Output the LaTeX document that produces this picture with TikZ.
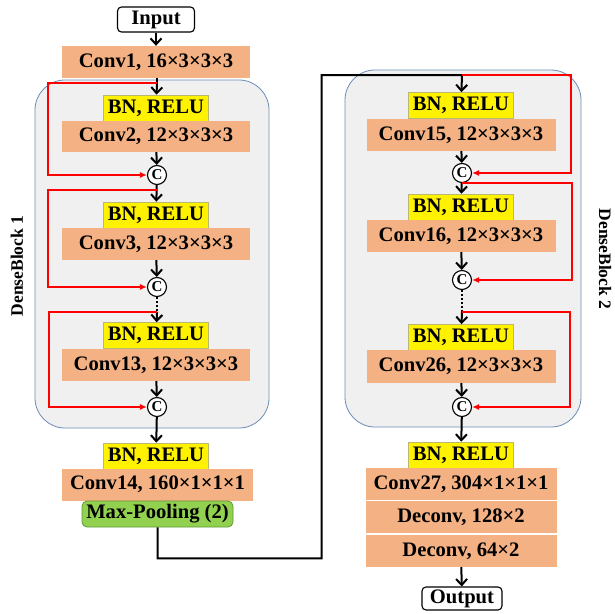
\documentclass[tikz,border=0pt]{standalone}
\usepackage{fontspec}
\setmainfont{Liberation Serif}
\usepackage{tikz}
\usepackage{xcolor}
\usetikzlibrary{
    arrows.meta,
    calc,
    positioning
}
\definecolor{convfill}{HTML}{F4B183}
\definecolor{bnedge}{HTML}{B8B870}
\definecolor{poolfill}{HTML}{92D050}
\definecolor{pooledge}{HTML}{5E9A34}
\definecolor{blockfill}{HTML}{F0F0F0}
\definecolor{blockedge}{HTML}{6B8DB5}

\tikzset{
    every node/.style={font=\bfseries\fontsize{20.6}{24}\selectfont, inner sep=0pt},
    conv/.style={fill=convfill, minimum width=188pt, minimum height=32pt},
    bn/.style={fill=yellow, draw=bnedge, line width=0.6pt, minimum width=105pt, minimum height=26pt},
    cat/.style={circle, draw, line width=1.1pt, fill=white, minimum size=19pt, font=\bfseries\fontsize{15}{15}\selectfont},
    io/.style={draw, line width=1.1pt, rounded corners=4pt, fill=white, minimum width=77pt, minimum height=25pt},
    pool/.style={fill=poolfill, draw=pooledge, line width=0.8pt, rounded corners=5pt, minimum width=151pt, minimum height=26pt},
    blockbox/.style={fill=blockfill, draw=blockedge, line width=0.8pt, rounded corners=30pt},
    flow/.style={line width=2pt, -{Straight Barb[length=6pt, width=11pt, line width=2pt]}},
    skip/.style={red, line width=2pt, -{Latex[length=7pt, width=6pt]}},
    label/.style={font=\bfseries\fontsize{17.5}{20}\selectfont}
}

\begin{document}
\begin{tikzpicture}[x=1pt, y=-1pt]
    \useasboundingbox (0,0) rectangle (614,614);

    % dense block backgrounds
    \draw[blockbox] (35,80) rectangle (269,428);
    \draw[blockbox] (345,70) rectangle (581,427);
    \node[label, rotate=90] (lab1) at (17,266) {DenseBlock 1};
    \node[label, rotate=-90] (lab2) at (605,259) {DenseBlock 2};

    % left column
    \node[io] (in) at (156,19.5) {Input};
    \node[conv] (conv1) at (156,62) {Conv1, 16×3×3×3};
    \node[bn] (bn2) at (156,108) {BN, RELU};
    \node[conv, minimum height=31pt] (conv2) at (156,136.5) {Conv2, 12×3×3×3};
    \node[cat] (c1) at (157,175) {C};
    \node[bn] (bn3) at (156,215) {BN, RELU};
    \node[conv] (conv3) at (156,244) {Conv3, 12×3×3×3};
    \node[cat] (c2) at (157,287) {C};
    \node[bn] (bn13) at (156,335.5) {BN, RELU};
    \node[conv] (conv13) at (156,365) {Conv13, 12×3×3×3};
    \node[cat] (c3) at (157,407) {C};
    \node[bn] (bn14) at (156,456) {BN, RELU};
    \node[conv, minimum width=191pt] (conv14) at (157.5,484.5) {Conv14, 160×1×1×1};
    \node[pool] (pool) at (157.5,514) {Max-Pooling (2)};

    \coordinate (j1) at (157,83);
    \coordinate (j2) at (157,190);
    \coordinate (j3) at (157,312);

    \draw
    (in) edge[flow] (conv1)
    (j1) edge[flow] (bn2)
    (conv2) edge[flow] (c1)
    (c1) edge[flow] (bn3)
    (conv3) edge[flow] (c2)
    (j3) edge[flow] (bn13)
    (conv13) edge[flow] (c3)
    (c3) edge[flow] (bn14);
    \draw[line width=2pt] (conv1.south -| j1) -- (j1);
    \draw[line width=2pt, dotted] (c2) -- (j3);

    \draw[skip] (j1) -- ++(-109,0) |- (c1);
    \draw[skip] (j2) -- ++(-109,0) |- (c2);
    \draw[skip] (j3) -- ++(-108,0) |- (c3);

    % right column
    \node[bn] (bn15) at (461,105.5) {BN, RELU};
    \node[conv, minimum width=189pt] (conv15) at (461,135) {Conv15, 12×3×3×3};
    \node[cat] (c15) at (462,173) {C};
    \node[bn] (bn16) at (461,207) {BN, RELU};
    \node[conv, minimum width=189pt] (conv16) at (461,236) {Conv16, 12×3×3×3};
    \node[cat] (c16) at (462,280) {C};
    \node[bn] (bn26) at (461,337.5) {BN, RELU};
    \node[conv, minimum width=189pt, minimum height=33pt] (conv26) at (461,366.5) {Conv26, 12×3×3×3};
    \node[cat] (c26) at (462,407) {C};
    \node[bn] (bn27) at (461,455) {BN, RELU};
    \node[conv, minimum width=191pt] (conv27) at (461,484) {Conv27, 304×1×1×1};
    \node[conv, minimum width=191pt] (dec1) at (461,517) {Deconv, 128×2};
    \node[conv, minimum width=191pt] (dec2) at (461,551) {Deconv, 64×2};
    \node[io, minimum width=80pt, minimum height=23pt] (out) at (462,598.5) {Output};

    \coordinate (top2) at (462,75);
    \coordinate (j5) at (462,183);
    \coordinate (j6) at (462,312);

    \draw[flow] (pool.south) -- ++(0,31) -- ++(164,0) |- (top2) -- (bn15);
    \draw
    (conv15) edge[flow] (c15)
    (c15) edge[flow] (bn16)
    (conv16) edge[flow] (c16)
    (j6) edge[flow] (bn26)
    (conv26) edge[flow] (c26)
    (c26) edge[flow] (bn27)
    (dec2) edge[flow] (out);
    \draw[line width=2pt, dotted] (c16) -- (j6);

    \draw[skip] (top2) -- ++(109,0) |- (c15);
    \draw[skip] (j5) -- ++(110,0) |- (c16);
    \draw[skip] (j6) -- ++(108,0) |- (c26);
\end{tikzpicture}
\end{document}
